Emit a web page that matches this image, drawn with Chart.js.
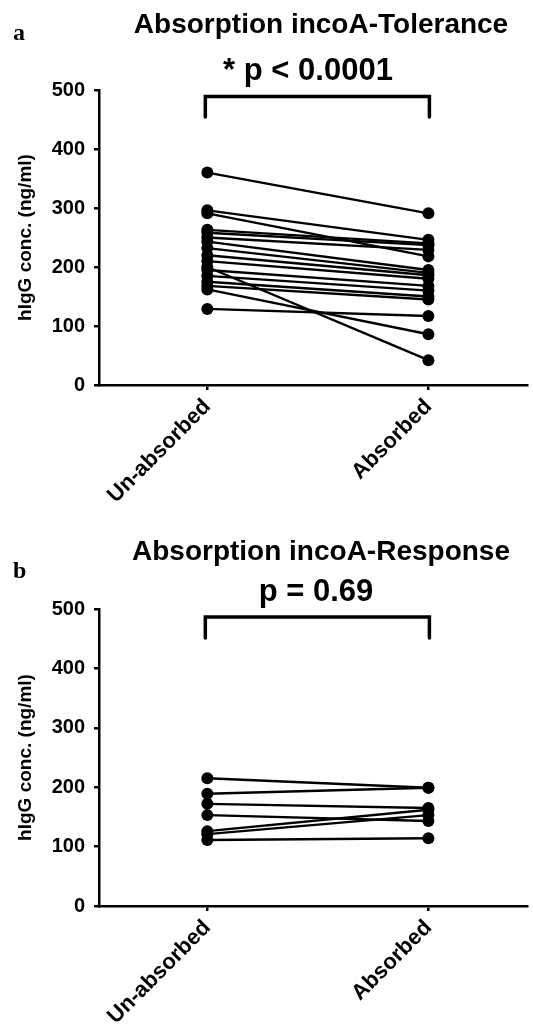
<!DOCTYPE html>
<html>
<head>
<meta charset="utf-8">
<script src="https://cdn.jsdelivr.net/npm/chart.js@4/dist/chart.umd.min.js"></script>
<style>
  html, body { margin: 0; padding: 0; background: #fff; }
  body { width: 533px; height: 1029px; position: relative; overflow: hidden; }
  .panel { position: absolute; left: 0; width: 533px; }
  #pa { top: 0; height: 520px; }
  #pb { top: 520px; height: 509px; }
</style>
</head>
<body>
<div class="panel" id="pa"><canvas id="ca"></canvas></div>
<div class="panel" id="pb"><canvas id="cb"></canvas></div>
<script>
// ---- Data ----
const categories = ["Un-absorbed", "Absorbed"];
const yTicks = [0, 100, 200, 300, 400, 500];

const toleranceUnabsorbed = [360, 296, 291, 263, 258, 250, 243, 232, 220, 210, 200, 195, 185, 175, 168, 162, 129];
const toleranceAbsorbed   = [291, 246, 218, 240, 237, 229, 195, 190, 186, 180, 42, 168, 160, 150, 145, 86, 117];

const responseUnabsorbed = [215, 189, 172, 153, 126, 121, 111];
const responseAbsorbed   = [199, 199, 165, 143, 162, 153, 114];

const titleA = "Absorption incoA-Tolerance";
const pTextA = "* p < 0.0001";
const titleB = "Absorption incoA-Response";
const pTextB = "p = 0.69";
const yTitle = "hIgG conc. (ng/ml)";

// ---- Helpers ----
const SANS = '"Liberation Sans", Arial, Helvetica, sans-serif';
const SERIF = '"Liberation Serif", "Times New Roman", serif';

function buildDatasets(before, after) {
  return before.map((v, i) => ({
    data: [{ x: 0, y: v }, { x: 1, y: after[i] }],
    showLine: true,
    borderColor: '#000',
    backgroundColor: '#000',
    borderWidth: 2.4,
    pointRadius: 6,
    pointBorderWidth: 0,
    pointBackgroundColor: '#000',
    clip: false
  }));
}

const decoPlugin = {
  id: 'deco',
  afterDraw(chart, args, o) {
    const ctx = chart.ctx;
    const xs = chart.scales.x;
    ctx.save();
    ctx.fillStyle = '#000';
    ctx.textBaseline = 'alphabetic';
    // panel letter
    ctx.font = 'bold 24px ' + SERIF;
    ctx.textAlign = 'left';
    ctx.fillText(o.letter, 13, o.letterY);
    // title
    ctx.font = 'bold 28px ' + SANS;
    ctx.textAlign = 'center';
    ctx.fillText(o.title, o.titleX, o.titleY);
    // p text
    ctx.font = 'bold 31px ' + SANS;
    ctx.fillText(o.pText, o.pX, o.pY);
    // bracket
    const x0 = xs.getPixelForValue(0) - 2;
    const x1 = xs.getPixelForValue(1) + 1;
    ctx.strokeStyle = '#000';
    ctx.lineWidth = 3.5;
    ctx.lineJoin = 'miter';
    ctx.lineCap = 'round';
    ctx.beginPath();
    ctx.moveTo(x0, o.bracketBottom);
    ctx.lineTo(x0, o.bracketTop);
    ctx.lineTo(x1, o.bracketTop);
    ctx.lineTo(x1, o.bracketBottom);
    ctx.stroke();
    ctx.restore();
  }
};

function makeChart(canvasId, before, after, deco, topPad, xAxisHeight) {
  return new Chart(document.getElementById(canvasId), {
    type: 'scatter',
    data: { datasets: buildDatasets(before, after) },
    plugins: [decoPlugin],
    options: {
      responsive: true,
      maintainAspectRatio: false,
      animation: false,
      layout: { padding: { top: topPad, right: 0, left: 0, bottom: 0 } },
      plugins: {
        legend: { display: false },
        tooltip: { enabled: false },
        deco: deco
      },
      scales: {
        x: {
          type: 'linear',
          min: -0.49,
          max: 1.446,
          afterBuildTicks: (s) => { s.ticks = [{ value: 0 }, { value: 1 }]; },
          afterFit: (s) => { s.height = xAxisHeight; },
          ticks: {
            callback: (v) => categories[v],
            minRotation: 45,
            maxRotation: 45,
            autoSkip: false,
            color: '#000',
            padding: 4,
            font: { family: SANS, size: 22, weight: 'bold' }
          },
          grid: { drawOnChartArea: false, drawTicks: true, tickLength: 5, color: '#000', lineWidth: 2.5 },
          border: { display: true, color: '#000', width: 2.5 }
        },
        y: {
          min: 0,
          max: 500,
          afterBuildTicks: (s) => { s.ticks = yTicks.map(v => ({ value: v })); },
          afterFit: (s) => { s.width = 99; },
          ticks: {
            color: '#000',
            padding: 9,
            font: { family: SANS, size: 20, weight: 'bold' }
          },
          title: {
            display: true,
            text: yTitle,
            color: '#000',
            padding: { top: 14, bottom: 0 },
            font: { family: SANS, size: 19, weight: 'bold' }
          },
          grid: { drawOnChartArea: false, drawTicks: true, tickLength: 5, color: '#000', lineWidth: 2.5 },
          border: { display: true, color: '#000', width: 2.5 }
        }
      }
    }
  });
}

makeChart('ca', toleranceUnabsorbed, toleranceAbsorbed, {
  letter: 'a', letterY: 40,
  title: titleA, titleX: 321, titleY: 33,
  pText: pTextA, pX: 308, pY: 80,
  bracketTop: 96.5, bracketBottom: 117
}, 90, 135);

makeChart('cb', responseUnabsorbed, responseAbsorbed, {
  letter: 'b', letterY: 58,
  title: titleB, titleX: 321, titleY: 40,
  pText: pTextB, pX: 316, pY: 81,
  bracketTop: 97, bracketBottom: 118
}, 89, 123);
</script>
</body>
</html>
